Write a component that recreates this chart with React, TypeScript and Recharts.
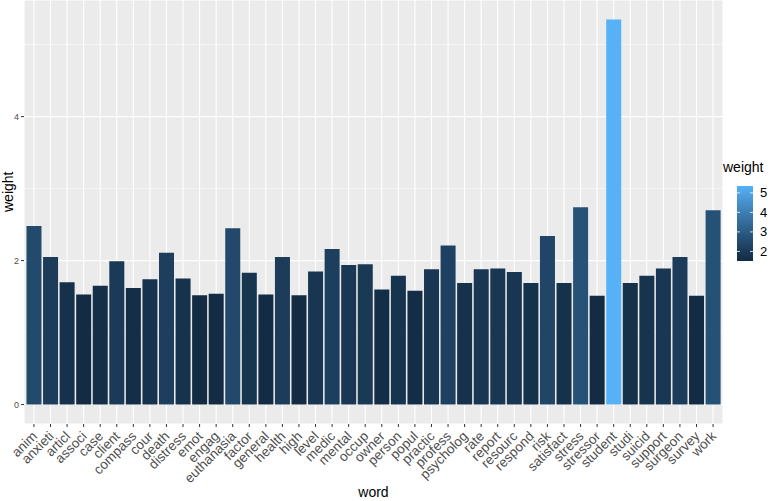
import React from "react";
import { BarChart, Bar, XAxis, YAxis, CartesianGrid, Cell } from "recharts";

const words = [
  "anim", "anxieti", "articl", "associ", "case", "client", "compass", "cour", "death", "distress",
  "emot", "engag", "euthanasia", "factor", "general", "health", "high", "level", "medic", "mental",
  "occup", "owner", "person", "popul", "practic", "profess", "psycholog", "rate", "report", "resourc",
  "respond", "risk", "satisfact", "stress", "stressor", "student", "studi", "suicid", "support", "surgeon",
  "survey", "work",
];
const weights = [
  2.48, 2.05, 1.70, 1.53, 1.65, 1.99, 1.62, 1.74, 2.11, 1.75,
  1.52, 1.54, 2.45, 1.83, 1.53, 2.05, 1.52, 1.85, 2.16, 1.94,
  1.95, 1.60, 1.79, 1.58, 1.88, 2.21, 1.69, 1.88, 1.89, 1.84,
  1.69, 2.34, 1.69, 2.74, 1.51, 5.35, 1.69, 1.79, 1.89, 2.05,
  1.51, 2.70,
];
const majorTicks = [0, 2, 4];
const minorTicks = [1, 3, 5];
const legendTicks = [2, 3, 4, 5];

const data = words.map((word, i) => ({ word, weight: weights[i] }));

// ggplot2 default gradient, interpolated in Lab space
const LOW = "#132B43";
const HIGH = "#56B1F7";

const toLin = (c: number) => (c <= 0.04045 ? c / 12.92 : Math.pow((c + 0.055) / 1.055, 2.4));
const fromLin = (c: number) => (c <= 0.0031308 ? 12.92 * c : 1.055 * Math.pow(c, 1 / 2.4) - 0.055);
const Xn = 0.95047, Yn = 1.0, Zn = 1.08883;
const f = (t: number) => (t > 0.008856 ? Math.cbrt(t) : 7.787 * t + 16 / 116);
const finv = (t: number) => (t > 0.206893 ? t * t * t : (t - 16 / 116) / 7.787);

function hexToLab(hex: string) {
  const r = toLin(parseInt(hex.slice(1, 3), 16) / 255);
  const g = toLin(parseInt(hex.slice(3, 5), 16) / 255);
  const b = toLin(parseInt(hex.slice(5, 7), 16) / 255);
  const x = r * 0.4124 + g * 0.3576 + b * 0.1805;
  const y = r * 0.2126 + g * 0.7152 + b * 0.0722;
  const z = r * 0.0193 + g * 0.1192 + b * 0.9505;
  const fx = f(x / Xn), fy = f(y / Yn), fz = f(z / Zn);
  return [116 * fy - 16, 500 * (fx - fy), 200 * (fy - fz)];
}

function labToHex([L, a, bb]: number[]) {
  const fy = (L + 16) / 116;
  const x = Xn * finv(fy + a / 500);
  const y = Yn * finv(fy);
  const z = Zn * finv(fy - bb / 200);
  const r = x * 3.2406 + y * -1.5372 + z * -0.4986;
  const g = x * -0.9689 + y * 1.8758 + z * 0.0415;
  const b = x * 0.0557 + y * -0.204 + z * 1.057;
  const h = (c: number) =>
    Math.round(Math.min(1, Math.max(0, fromLin(c))) * 255).toString(16).padStart(2, "0");
  return "#" + h(r) + h(g) + h(b);
}

const lowLab = hexToLab(LOW);
const highLab = hexToLab(HIGH);
const minW = Math.min(...weights);
const maxW = Math.max(...weights);
const colorFor = (v: number) => {
  const t = (v - minW) / (maxW - minW);
  return labToHex(lowLab.map((l, i) => l + (highLab[i] - l) * t));
};

const FONT = "Liberation Sans, Arial, sans-serif";

const XTick = (props: any) => {
  const { x, y, payload } = props;
  const ax = x + 4;
  const ay = y + 8;
  return (
    <text
      x={ax}
      y={ay}
      transform={`rotate(-45 ${ax} ${ay})`}
      textAnchor="end"
      fontSize={13.5}
      fill="#4D4D4D"
      fontFamily={FONT}
    >
      {payload.value}
    </text>
  );
};

const Legend = () => {
  const barTop = 186;
  const barBottom = 261;
  const yFor = (v: number) => barBottom - ((v - minW) / (maxW - minW)) * (barBottom - barTop);
  const stops = Array.from({ length: 11 }, (_, i) => i / 10);
  return (
    <svg
      width={60}
      height={120}
      style={{ position: "absolute", left: 718, top: 155 }}
      fontFamily={FONT}
    >
      <defs>
        <linearGradient id="wgrad" x1="0" y1="1" x2="0" y2="0">
          {stops.map((s) => (
            <stop key={s} offset={s} stopColor={colorFor(minW + s * (maxW - minW))} />
          ))}
        </linearGradient>
      </defs>
      <g transform="translate(-718 -155)">
        <text x={723} y={172} fontSize={14} fill="#000">weight</text>
        <rect x={737} y={barTop} width={16} height={barBottom - barTop} fill="url(#wgrad)" />
        {legendTicks.map((t) => (
          <g key={t}>
            <line x1={737} x2={740} y1={yFor(t)} y2={yFor(t)} stroke="#fff" strokeWidth={0.8} />
            <line x1={750} x2={753} y1={yFor(t)} y2={yFor(t)} stroke="#fff" strokeWidth={0.8} />
            <text x={760} y={yFor(t) + 4.5} fontSize={13} fill="#000">{t}</text>
          </g>
        ))}
      </g>
    </svg>
  );
};

export default function App() {
  return (
    <div style={{ position: "absolute", left: 0, top: 0, width: 778, height: 501, background: "#fff" }}>
      <BarChart
        width={778}
        height={501}
        data={data}
        margin={{ top: 0, right: 55, bottom: 0, left: 0 }}
        barCategoryGap="5%"
      >
        <CartesianGrid
          fill="#EBEBEB"
          stroke="#fff"
          strokeWidth={0.5}
          vertical={false}
          horizontalValues={minorTicks}
        />
        <CartesianGrid fill="none" stroke="#fff" strokeWidth={1.1} />
        <XAxis
          dataKey="word"
          type="category"
          interval={0}
          height={77}
          padding={{ left: 1.66, right: 1.66 }}
          axisLine={false}
          tickLine={{ stroke: "#333", strokeWidth: 1 }}
          tickSize={3}
          tick={<XTick />}
          label={{
            value: "word",
            position: "insideBottom",
            offset: 4,
            fontSize: 14,
            fill: "#000",
            fontFamily: FONT,
          }}
        />
        <YAxis
          type="number"
          domain={[-0.27, 5.62]}
          ticks={majorTicks}
          allowDataOverflow
          width={24}
          axisLine={false}
          tickLine={{ stroke: "#333", strokeWidth: 1 }}
          tickSize={3}
          tick={{ fontSize: 9, fill: "#4D4D4D", fontFamily: FONT }}
          label={{
            value: "weight",
            angle: -90,
            position: "insideLeft",
            offset: 8,
            fontSize: 14,
            fill: "#000",
            fontFamily: FONT,
          }}
        />
        <Bar dataKey="weight" isAnimationActive={false}>
          {data.map((d, i) => (
            <Cell key={`cell-${i}`} fill={colorFor(d.weight)} />
          ))}
        </Bar>
      </BarChart>
      <Legend />
    </div>
  );
}
